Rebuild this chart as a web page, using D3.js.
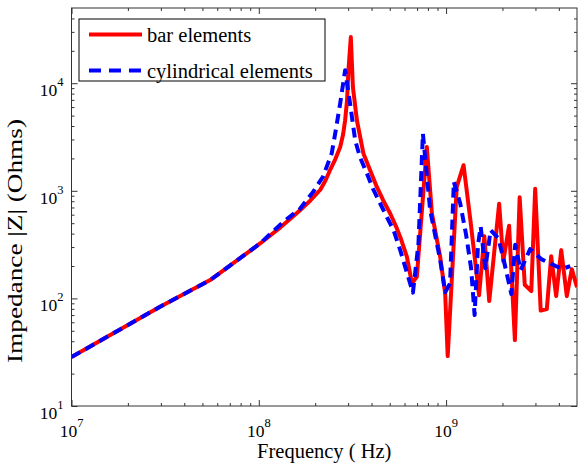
<!DOCTYPE html>
<html>
<head>
<meta charset="utf-8">
<script src="https://cdn.jsdelivr.net/npm/d3@7"></script>
<style>
  body { margin: 0; background: #fff; }
  svg text, svg tspan { font-family: "Liberation Serif", "Times New Roman", serif; }
</style>
</head>
<body>
<svg id="chart" width="583" height="465" font-family="Liberation Serif, serif"></svg>
<script>
// bar elements (solid red)
const barFreq = [1.0e7, 2.97e7, 5.5e7, 1.016e8, 1.3e8, 1.47e8, 1.66e8, 1.88e8, 2.13e8, 2.26e8,
  2.4e8, 2.56e8, 2.72e8, 2.82e8, 2.89e8, 2.96e8, 3.01e8, 3.1e8, 3.18e8, 3.34e8,
  3.62e8, 3.93e8, 4.27e8, 4.61e8, 5.03e8, 5.46e8, 5.69e8, 6.18e8,
  6.57e8, 6.98e8, 7.89e8, 8.4e8, 9.3e8, 9.89e8, 1.02e9, 1.14e9, 1.24e9, 1.35e9,
  1.5e9, 1.6e9, 1.7e9, 1.92e9, 2.02e9, 2.17e9, 2.33e9, 2.47e9, 2.63e9, 2.85e9,
  2.99e9, 3.2e9, 3.45e9, 3.64e9, 3.87e9, 4.12e9, 4.41e9, 4.69e9, 5.0e9]
const barZ = [28.5, 83.6, 148, 324, 455, 547, 661, 809, 1023, 1228,
  1553, 1963, 2556, 3354, 4526, 6935, 13180, 26850, 9220, 4526,
  2220, 1553, 1087, 818, 616, 447, 373, 243,
  138, 159, 2556, 616, 243, 111, 29.1, 1087, 1729, 524,
  107, 379, 94.4, 759, 222, 474, 41, 872, 134, 117,
  1046, 77, 79.6, 247, 105, 281, 105, 187, 127]

// cylindrical elements (dashed blue)
const cylFreq = [1.0e7, 2.97e7, 5.5e7, 1.016e8, 1.35e8, 1.66e8, 1.95e8, 2.2e8, 2.45e8, 2.56e8,
  2.72e8, 2.89e8, 3.07e8, 3.27e8, 3.47e8, 3.78e8, 4.08e8, 4.45e8, 4.83e8, 5.24e8, 5.69e8,
  6.12e8, 6.65e8, 7.12e8, 7.52e8, 8.22e8,
  9.3e8, 9.89e8, 1.05e9, 1.1e9, 1.19e9, 1.28e9, 1.36e9, 1.42e9, 1.48e9, 1.53e9,
  1.62e9, 1.73e9, 1.9e9, 2.02e9, 2.23e9, 2.34e9, 2.5e9, 2.81e9, 3.22e9, 3.85e9,
  4.2e9, 4.6e9]
const cylZ = [28.5, 83.6, 148, 324, 514, 680, 977, 1350, 2220, 3427,
  6505, 13180, 6505, 2951, 2051, 1447, 1035, 762, 569, 431, 281,
  183, 113, 324, 3404, 661,
  227, 114, 138, 1210, 762, 387, 191, 70, 313, 464,
  191, 431, 363, 237, 110, 316, 183, 287, 232, 200,
  189, 200]

const xDomain = [1e7, 5e9]
const yDomain = [10, 5e4]
const xMajor = [1e7, 1e8, 1e9]
const yMajor = [1e1, 1e2, 1e3, 1e4]
const seriesNames = ['bar elements', 'cylindrical elements']

const serif = 'Liberation Serif, Times New Roman, serif'
const margin = {top: 8, right: 6, bottom: 59, left: 71.5}
const width = 583 - margin.left - margin.right
const height = 465 - margin.top - margin.bottom

const x = d3.scaleLog().domain(xDomain).range([0, width])
const y = d3.scaleLog().domain(yDomain).range([height, 0])

const svg = d3.select('#chart')
  .append('g')
  .attr('transform', 'translate(' + margin.left + ',' + margin.top + ')')

// minor tick positions
function minors(domain) {
  const out = []
  for (let e = Math.floor(Math.log10(domain[0])); e <= Math.ceil(Math.log10(domain[1])); e++) {
    for (let m = 2; m <= 9; m++) {
      const v = m * Math.pow(10, e)
      if (v > domain[0] && v < domain[1]) out.push(v)
    }
  }
  return out
}
const xMinor = minors(xDomain)
const yMinor = minors(yDomain)

const axisColor = '#333'
function styleAxis(g) {
  g.select('.domain').remove()
  g.selectAll('.tick line').attr('stroke', axisColor)
  g.selectAll('.tick text').remove()
}

// ticks on all four sides, pointing inward
svg.append('g').attr('transform', 'translate(0,' + height + ')')
  .call(d3.axisBottom(x).tickValues(xMinor).tickSize(-3)).call(styleAxis)
svg.append('g').attr('transform', 'translate(0,' + height + ')')
  .call(d3.axisBottom(x).tickValues(xMajor).tickSize(-6)).call(styleAxis)
svg.append('g')
  .call(d3.axisTop(x).tickValues(xMinor).tickSize(-3)).call(styleAxis)
svg.append('g')
  .call(d3.axisTop(x).tickValues(xMajor).tickSize(-6)).call(styleAxis)
svg.append('g')
  .call(d3.axisLeft(y).tickValues(yMinor).tickSize(-3)).call(styleAxis)
svg.append('g')
  .call(d3.axisLeft(y).tickValues(yMajor).tickSize(-6)).call(styleAxis)
svg.append('g').attr('transform', 'translate(' + width + ',0)')
  .call(d3.axisRight(y).tickValues(yMinor).tickSize(-3)).call(styleAxis)
svg.append('g').attr('transform', 'translate(' + width + ',0)')
  .call(d3.axisRight(y).tickValues(yMajor).tickSize(-6)).call(styleAxis)

// tick labels as 10^n
xMajor.forEach(function(v) {
  const t = svg.append('text')
    .attr('x', x(v)).attr('y', height + 30.5)
    .attr('text-anchor', 'middle').attr('font-family', serif)
    .attr('font-size', 17.5).attr('fill', '#000')
  t.append('tspan').text('10')
  t.append('tspan').attr('dy', -10).attr('font-size', 12.5).text(Math.round(Math.log10(v)))
})
yMajor.forEach(function(v) {
  const t = svg.append('text')
    .attr('x', -8).attr('y', y(v) + 13)
    .attr('text-anchor', 'end').attr('font-family', serif)
    .attr('font-size', 17.5).attr('fill', '#000')
  t.append('tspan').text('10')
  t.append('tspan').attr('dy', -10).attr('font-size', 12.5).text(Math.round(Math.log10(v)))
})

// frame
svg.append('rect')
  .attr('width', width).attr('height', height)
  .attr('fill', 'none').attr('stroke', axisColor).attr('stroke-width', 1)

// axis titles
svg.append('text')
  .attr('x', width / 2).attr('y', height + 52)
  .attr('text-anchor', 'middle').attr('font-size', 20.5).attr('font-family', serif)
  .text('Frequency ( Hz)')
svg.append('text')
  .attr('transform', 'translate(' + (-50) + ',' + 233 + ') rotate(-90)')
  .attr('text-anchor', 'middle').attr('font-size', 21).attr('font-family', serif)
  .attr('textLength', 244).attr('lengthAdjust', 'spacingAndGlyphs')
  .text('Impedance |Z| (Ohms)')

// lines
const line = d3.line()
  .x(function(d) { return x(d[0]) })
  .y(function(d) { return y(d[1]) })

const barData = d3.zip(barFreq, barZ)
const cylData = d3.zip(cylFreq, cylZ)

const clip = svg.append('clipPath').attr('id', 'clip')
clip.append('rect').attr('width', width).attr('height', height)

const plot = svg.append('g').attr('clip-path', 'url(#clip)')
plot.append('path')
  .datum(barData)
  .attr('d', line)
  .attr('fill', 'none').attr('stroke', '#ff0000')
  .attr('stroke-width', 4).attr('stroke-linejoin', 'round')
plot.append('path')
  .datum(cylData)
  .attr('d', line)
  .attr('fill', 'none').attr('stroke', '#0000ff')
  .attr('stroke-width', 4).attr('stroke-dasharray', '10,6')
  .attr('stroke-linejoin', 'round')

// legend
const legend = svg.append('g').attr('transform', 'translate(' + (79 - margin.left) + ',' + (19 - margin.top) + ')')
legend.append('rect')
  .attr('width', 246).attr('height', 62)
  .attr('fill', '#fff').attr('stroke', '#000').attr('stroke-width', 1)
const legendStyles = [
  {color: '#ff0000', dash: null},
  {color: '#0000ff', dash: '12,8'}
]
seriesNames.forEach(function(name, i) {
  const cy = 15.5 + i * 36
  legend.append('line')
    .attr('x1', 10).attr('x2', 63).attr('y1', cy).attr('y2', cy)
    .attr('stroke', legendStyles[i].color).attr('stroke-width', 4)
    .attr('stroke-dasharray', legendStyles[i].dash)
  legend.append('text')
    .attr('x', 68).attr('y', cy + 7)
    .attr('font-size', 20.5).attr('font-family', serif)
    .text(name)
})
</script>
</body>
</html>
